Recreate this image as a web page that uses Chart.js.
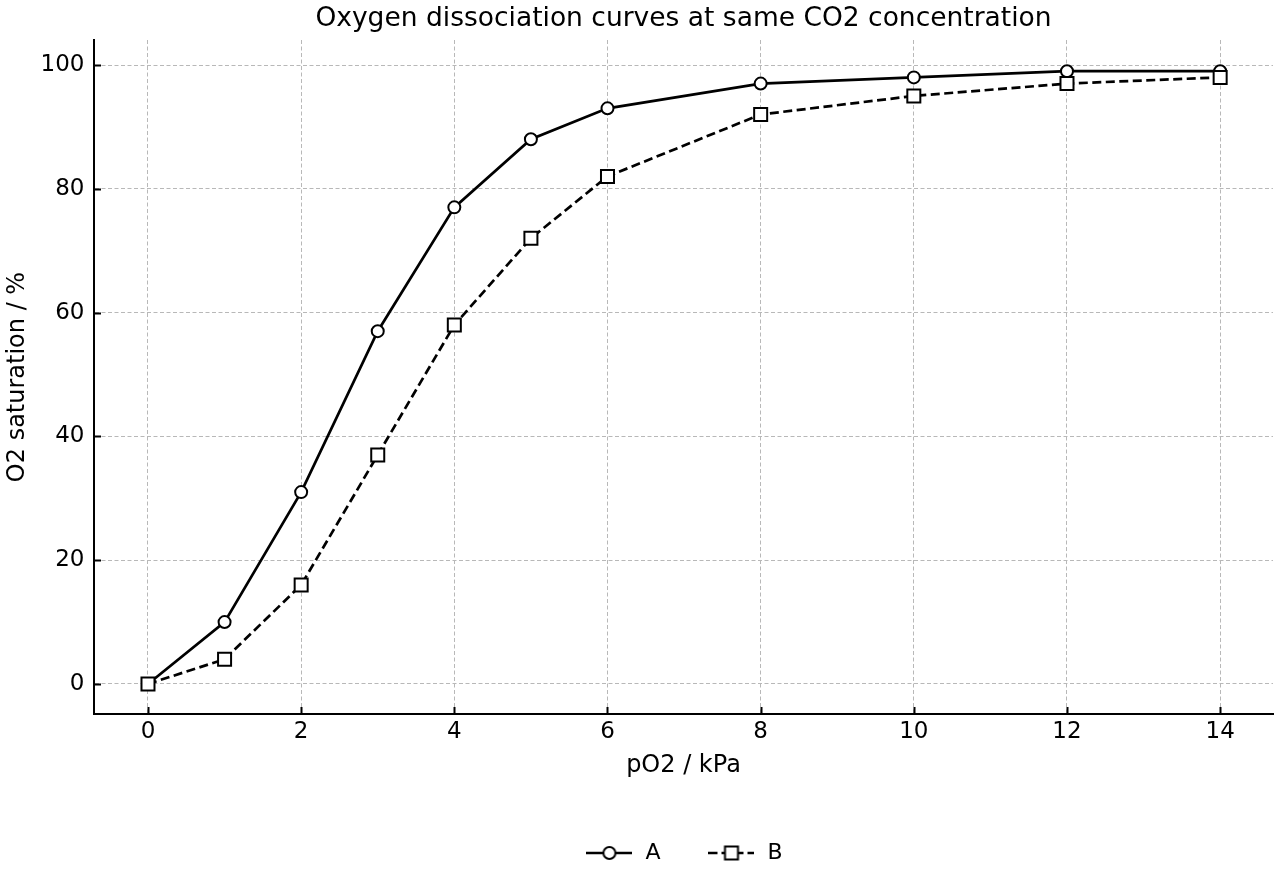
<!DOCTYPE html>
<html>
<head>
<meta charset="utf-8">
<script src="https://cdn.jsdelivr.net/npm/chart.js@4.4.1/dist/chart.umd.min.js"></script>
<style>
  html, body { margin: 0; padding: 0; background: #fff; }
  #wrap { width: 1280px; height: 880px; position: relative; }
</style>
</head>
<body>
<div id="wrap"><canvas id="c" width="1280" height="880"></canvas></div>
<script>
// ---- data ----
const pO2 = [0, 1, 2, 3, 4, 5, 6, 8, 10, 12, 14];
const satA = [0, 10, 31, 57, 77, 88, 93, 97, 98, 99, 99];
const satB = [0, 4, 16, 37, 58, 72, 82, 92, 95, 97, 98];
const xTicks = [0, 2, 4, 6, 8, 10, 12, 14];
const yTicks = [0, 20, 40, 60, 80, 100];
const seriesNames = ['A', 'B'];
const chartTitle = 'Oxygen dissociation curves at same CO2 concentration';
const xTitle = 'pO2 / kPa';
const yTitle = 'O2 saturation / %';

const FONT = 'DejaVu Sans';

function legendImage(kind) {
  const c = document.createElement('canvas');
  c.width = 46; c.height = 18;
  const g = c.getContext('2d');
  g.strokeStyle = '#000';
  g.lineWidth = 2.7;
  if (kind === 'B') g.setLineDash([9, 4]);
  g.beginPath(); g.moveTo(0, 9); g.lineTo(46, 9); g.stroke();
  g.setLineDash([]);
  g.lineWidth = 2;
  g.fillStyle = '#fff';
  if (kind === 'A') {
    g.beginPath(); g.arc(23, 9, 6, 0, Math.PI * 2); g.fill(); g.stroke();
  } else {
    g.beginPath(); g.rect(16.5, 2.5, 13, 13); g.fill(); g.stroke();
  }
  return c;
}

const innerTicks = {
  id: 'innerTicks',
  afterDraw(chart) {
    const { ctx, chartArea, scales } = chart;
    ctx.save();
    ctx.strokeStyle = '#000';
    ctx.lineWidth = 2;
    ctx.beginPath();
    scales.x.ticks.forEach(t => {
      const px = Math.round(scales.x.getPixelForValue(t.value)) + 0.5;
      ctx.moveTo(px, chartArea.bottom);
      ctx.lineTo(px, chartArea.bottom - 7);
    });
    scales.y.ticks.forEach(t => {
      const py = Math.round(scales.y.getPixelForValue(t.value)) + 0.5;
      ctx.moveTo(chartArea.left, py);
      ctx.lineTo(chartArea.left + 7, py);
    });
    ctx.stroke();
    ctx.restore();
  }
};

const ctx = document.getElementById('c').getContext('2d');
new Chart(ctx, {
  type: 'line',
  data: {
    datasets: [
      {
        label: seriesNames[0],
        data: pO2.map((x, i) => ({ x, y: satA[i] })),
        borderColor: '#000',
        borderWidth: 2.7,
        pointStyle: 'circle',
        pointRadius: 6,
        pointHoverRadius: 6,
        pointBorderWidth: 2,
        pointBackgroundColor: '#fff',
        pointBorderColor: '#000',
        tension: 0,
        fill: false,
        order: 1,
        clip: false
      },
      {
        label: seriesNames[1],
        data: pO2.map((x, i) => ({ x, y: satB[i] })),
        borderColor: '#000',
        borderWidth: 2.7,
        borderDash: [9, 4.5],
        pointStyle: 'rect',
        pointRadius: 9.2,
        pointHoverRadius: 9.2,
        pointBorderWidth: 2,
        pointBackgroundColor: '#fff',
        pointBorderColor: '#000',
        tension: 0,
        fill: false,
        order: 0,
        clip: false
      }
    ]
  },
  options: {
    responsive: false,
    animation: false,
    devicePixelRatio: 1,
    layout: { autoPadding: false, padding: { left: 0, right: 7, top: 0, bottom: 6 } },
    plugins: {
      title: {
        display: true,
        fullSize: false,
        text: chartTitle,
        color: '#000',
        font: { family: FONT, size: 26.5, weight: 'normal' },
        padding: { top: 3.1, bottom: 5.1 }
      },
      legend: {
        display: true,
        position: 'bottom',
        fullSize: false,
        labels: {
          usePointStyle: true,
          pointStyleWidth: 50,
          boxHeight: 18,
          padding: 46,
          color: '#000',
          font: { family: FONT, size: 22 },
          sort: (a, b) => a.datasetIndex - b.datasetIndex,
          generateLabels(chart) {
            return chart.data.datasets.map((ds, i) => ({
              text: ds.label,
              pointStyle: legendImage(ds.label),
              datasetIndex: i,
              fillStyle: '#fff',
              strokeStyle: '#000',
              lineWidth: 0,
              hidden: false
            }));
          }
        }
      },
      tooltip: { enabled: false }
    },
    scales: {
      x: {
        type: 'linear',
        min: -0.705,
        max: 14.69,
        afterBuildTicks: s => { s.ticks = xTicks.map(v => ({ value: v })); },
        afterFit: s => { s.height = 82; s.paddingLeft = 0; s.paddingRight = 0; },
        grid: { display: true, color: '#b8b8b8', lineWidth: 1, drawTicks: false },
        border: { display: true, color: '#000', width: 2, dash: [4, 2.5] },
        ticks: {
          color: '#000', padding: 4.5, autoSkip: false, maxRotation: 0,
          font: { family: FONT, size: 23 },
          callback: v => String(v)
        },
        title: {
          display: true, text: xTitle, color: '#000',
          font: { family: FONT, size: 24 },
          padding: { top: 4, bottom: 15.6 }
        }
      },
      y: {
        type: 'linear',
        min: -4.85,
        max: 104.04,
        afterBuildTicks: s => { s.ticks = yTicks.map(v => ({ value: v })); },
        afterFit: s => { s.width = 94; s.paddingTop = 0; s.paddingBottom = 0; },
        grid: { display: true, color: '#b8b8b8', lineWidth: 1, drawTicks: false },
        border: { display: true, color: '#000', width: 2, dash: [4, 2.5] },
        ticks: {
          color: '#000', padding: 9.5,
          font: { family: FONT, size: 23 },
          callback: v => String(v)
        },
        title: {
          display: true, text: yTitle, color: '#000',
          font: { family: FONT, size: 24 },
          padding: { top: 3.6, bottom: 4 }
        }
      }
    }
  },
  plugins: [innerTicks]
});
</script>
</body>
</html>
